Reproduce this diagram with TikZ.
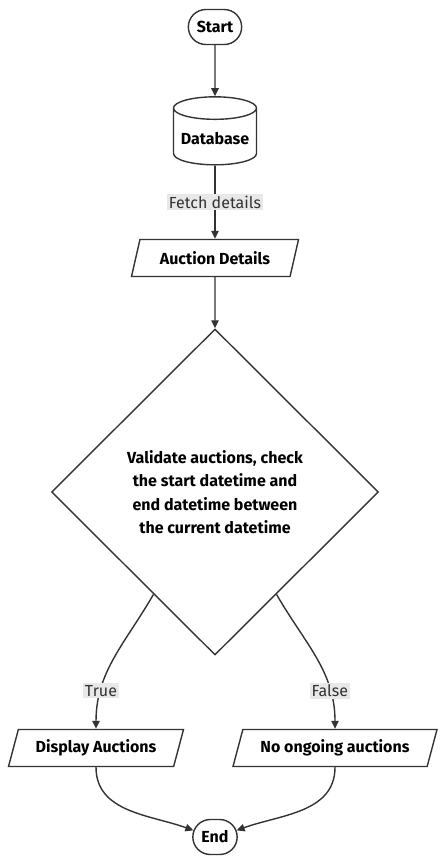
\documentclass[tikz,border=0pt]{standalone}
\usepackage{fontspec}
\setmainfont{Fira Sans}
\usepackage{xcolor}
\usetikzlibrary{shapes.geometric,shapes.misc,arrows.meta,positioning}
\definecolor{ink}{HTML}{333333}
\definecolor{lblbg}{HTML}{E8E8E8}

\begin{document}
\begin{tikzpicture}[x=1pt, y=1pt,
  base/.style={draw=ink, line width=1.4pt, align=center, text=black,
              font=\fontsize{16}{23.5}\selectfont\bfseries},
  term/.style={base, rounded rectangle, minimum width=60pt, minimum height=35pt},
  db/.style={base, cylinder, shape border rotate=90, aspect=0.3,
              minimum width=83pt, minimum height=68pt},
  io/.style={base, trapezium, trapezium left angle=67, trapezium right angle=113,
              trapezium stretches body, minimum height=37pt},
  cond/.style={base, diamond, minimum width=327pt, minimum height=326pt},
  lbl/.style={fill=lblbg, text=ink, font=\fontsize{16}{18}\selectfont, inner sep=2pt},
  arr/.style={draw=ink, line width=1.4pt, -{Triangle[length=8pt, width=7.5pt]}}]
\useasboundingbox (0,0) rectangle (445,-865);
\node[term] (start) at (215,-27) {Start};
\node[db] (db) at (215,-139) {Database};
\node[io, minimum width=167pt] (details) at (215,-258) {Auction Details};
\node[cond] (check) at (215,-492) {Validate auctions, check\\the start datetime and\\end datetime between\\ the current datetime};
\node[io, minimum width=175pt] (show) at (96,-748) {Display Auctions};
\node[io, minimum width=204pt] (none) at (335,-748) {No ongoing auctions};
\node[term, minimum width=51pt] (end) at (215,-837) {End};
\draw[arr] (start) -- (db);
\draw[arr] (db) -- node[lbl] {Fetch details} (details);
\draw[arr] (details) -- (check);
\draw[arr] (check.-121) to[out=-120, in=90] node[lbl, pos=0.75] {True} (show.north);
\draw[arr] (check.-59) to[out=-60, in=90] node[lbl, pos=0.75] {False} (none.north);
\draw[arr] (show.south) to[out=-90, in=160] (end.163);
\draw[arr] (none.south) to[out=-90, in=20] (end.17);
\end{tikzpicture}
\end{document}
